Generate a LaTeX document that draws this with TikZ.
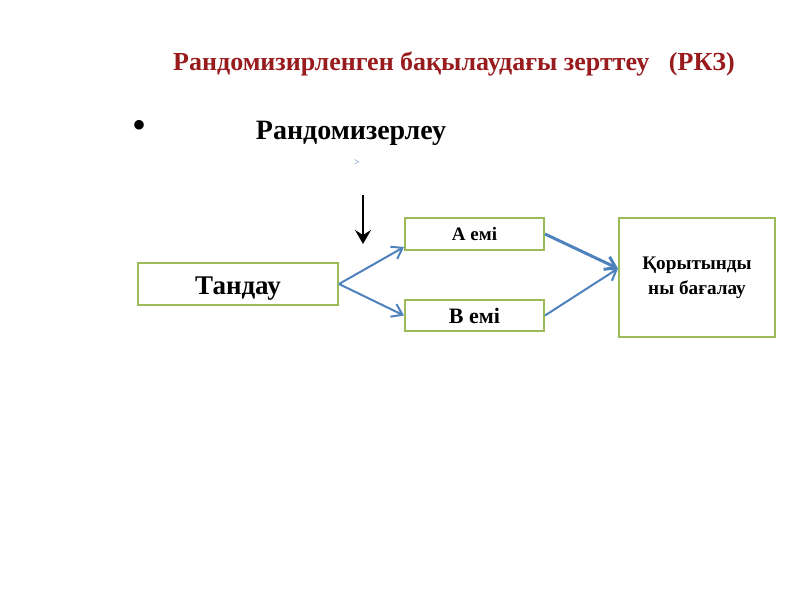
\documentclass[tikz,border=0pt]{standalone}
\usepackage{fontspec}
\setmainfont{Liberation Serif}
\usepackage{xcolor}
\usetikzlibrary{arrows.meta}
\definecolor{darkred}{HTML}{981B1E}
\definecolor{boxgreen}{HTML}{9BBB59}
\definecolor{flowblue}{HTML}{4F81BD}

\begin{document}
\begin{tikzpicture}[
  x=0.5pt,y=-0.5pt,
  bx/.style={draw=boxgreen,line width=1pt,fill=white,inner sep=0pt,
             font=\bfseries,align=center},
  fl/.style={-{Straight Barb[length=5pt,width=7pt]},flowblue,line width=1pt}
]
  \useasboundingbox (0,0) rectangle (800,600);

  \node[text=darkred,font=\bfseries\fontsize{13}{15}\selectfont] (title) at (454,64)
    {Рандомизирленген бақылаудағы зерттеу\ \ \ (РКЗ)};
  \node[font=\fontsize{20}{22}\selectfont] (dot) at (140,129) {•};
  \node[font=\bfseries\fontsize{14}{16}\selectfont] (rand) at (351,133) {Рандомизерлеу};
  \node[text=flowblue,font=\fontsize{5}{6}\selectfont] (mark) at (357,163) {>};

  \coordinate (top) at (363,195);
  \coordinate (bot) at (363,244);
  \draw[-{Stealth[length=7pt,width=8pt,inset=2.5pt]},line width=1.4pt] (top) -- (bot);

  \node[bx,minimum width=100pt,minimum height=21pt,text height=11pt,text depth=1pt,
        font=\bfseries\fontsize{13.5}{15}\selectfont]
    (tandau) at (238,284) {Тандау};
  \node[bx,minimum width=69.5pt,minimum height=16pt,font=\bfseries\fontsize{9.5}{11}\selectfont]
    (a) at (474.5,234) {А емі};
  \node[bx,minimum width=69.5pt,minimum height=15.5pt,font=\bfseries\fontsize{11}{13}\selectfont]
    (b) at (474.5,315.5) {В емі};
  \node[bx,minimum width=78pt,minimum height=59.5pt,font=\bfseries\fontsize{9.6}{12.5}\selectfont]
    (kor) at (697,277.5) {Қорытынды\\ны бағалау};

  \draw[fl] (tandau.east) -- ([yshift=2pt]a.south west);
  \draw[fl] (tandau.east) -- (b.west);
  \draw[fl,line width=1.5pt] (a.east) -- ([yshift=4.5pt]kor.west);
  \draw[fl] (b.east) -- ([yshift=4.5pt]kor.west);
\end{tikzpicture}
\end{document}
